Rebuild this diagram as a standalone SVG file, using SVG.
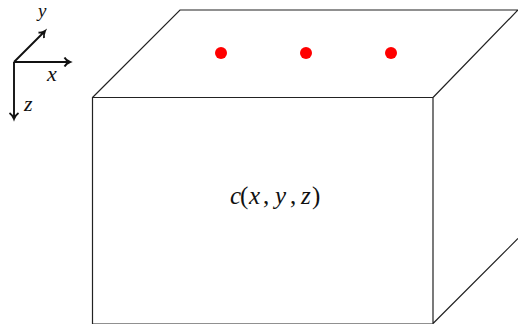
<svg xmlns="http://www.w3.org/2000/svg" width="518" height="324" viewBox="0 0 518 324">
<defs>
<style>
.e{fill:none;stroke:#222;stroke-width:1.2}
.a{fill:none;stroke:#111;stroke-width:1.9}
.d{fill:#f00}
.t{font-family:"Liberation Serif","DejaVu Serif",serif;font-style:italic;fill:#111}
.n{font-style:normal}
</style>
</defs>
<rect width="518" height="324" fill="#fff"/>
<g id="connectors">
<path class="a" d="M14 62H69M64.500 57.500Q66 60.500 70 62Q66 63.500 64.500 66.500"/>
<path class="a" d="M14 62L45 31M38.500 32.500Q42 33 45 31Q43.500 34.500 44 38"/>
<path class="a" d="M14 62V118M9.500 113Q12.500 115 14 119Q15.500 115 18.500 113"/>
</g>
<g id="box">
<path class="e" d="M92.500 324V97.500H433V324M92.500 97.500L180 10H518M433 97.500L518 10M433 323.500L518 238.500M92.500 324H433"/>
</g>
<g id="dot-1"><circle class="d" cx="221" cy="53" r="6"/></g>
<g id="dot-2"><circle class="d" cx="306" cy="53" r="6"/></g>
<g id="dot-3"><circle class="d" cx="391" cy="53" r="6"/></g>
<g id="label-y"><text class="t" x="38" y="17" font-size="19">y</text></g>
<g id="label-x"><text class="t" x="47" y="81" font-size="22">x</text></g>
<g id="label-z"><text class="t" x="24" y="111" font-size="22">z</text></g>
<g id="label-c"><text class="t" y="204" font-size="25" x="230 240 249 263 275 290 301 312">c<tspan class="n">(</tspan>x<tspan class="n">,</tspan>y<tspan class="n">,</tspan>z<tspan class="n">)</tspan></text></g>
</svg>
